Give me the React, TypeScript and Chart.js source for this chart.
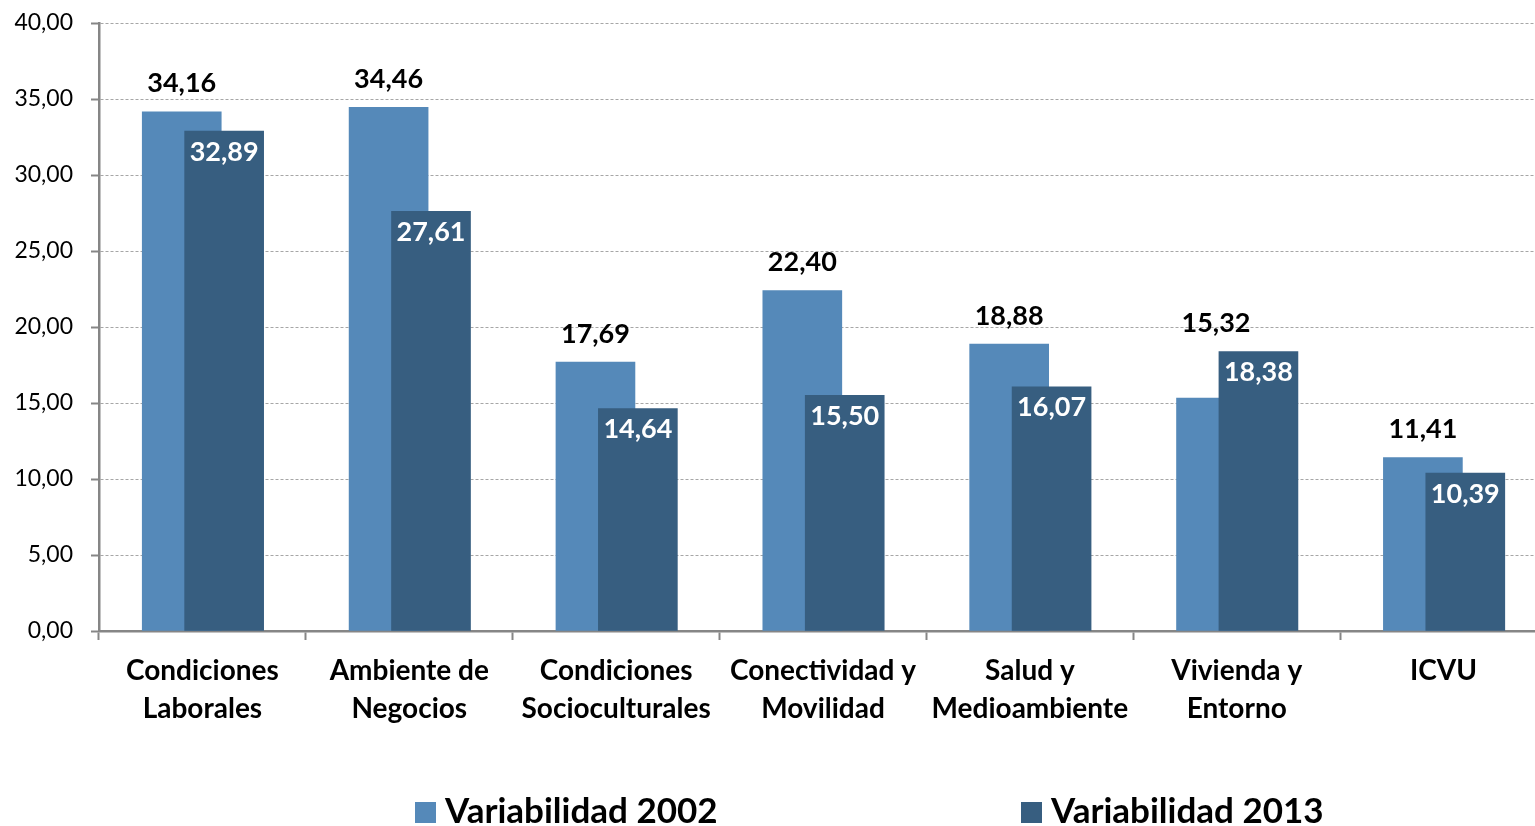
import React, { useEffect, useRef } from 'react';
import { Chart, registerables } from 'chart.js';

Chart.register(...registerables);

const categories: string[][] = [
  ['Condiciones', 'Laborales'],
  ['Ambiente de', 'Negocios'],
  ['Condiciones', 'Socioculturales'],
  ['Conectividad y', 'Movilidad'],
  ['Salud y', 'Medioambiente'],
  ['Vivienda y', 'Entorno'],
  ['ICVU'],
];
const values2002 = [34.16, 34.46, 17.69, 22.4, 18.88, 15.32, 11.41];
const values2013 = [32.89, 27.61, 14.64, 15.5, 16.07, 18.38, 10.39];
const seriesNames = ['Variabilidad 2002', 'Variabilidad 2013'];
const yMin = 0;
const yMax = 40;
const yStep = 5;

const COLOR_2002 = '#5589b9';
const COLOR_2013 = '#375e80';
const AXIS = '#868686';
const FONT = 'Lato, "Open Sans", sans-serif';

const fmt = (v: number) => v.toFixed(2).replace('.', ',');

const labelsPlugin = {
  id: 'valueLabels',
  afterDatasetsDraw(chart: any) {
    const ctx = chart.ctx;
    const m0 = chart.getDatasetMeta(0).data;
    const m1 = chart.getDatasetMeta(1).data;
    ctx.save();
    ctx.textAlign = 'center';
    ctx.textBaseline = 'middle';
    ctx.font = `bold 27px ${FONT}`;
    for (let i = 0; i < m0.length; i++) {
      const e0 = m0[i];
      const e1 = m1[i];
      const top = Math.min(e0.y, e1.y);
      ctx.fillStyle = '#000';
      ctx.fillText(fmt(values2002[i]), e0.x, top - 28);
      ctx.fillStyle = '#fff';
      ctx.fillText(fmt(values2013[i]), e1.x, e1.y + 21);
    }
    ctx.restore();
  },
};

const legendPlugin = {
  id: 'customLegend',
  afterDraw(chart: any) {
    const ctx = chart.ctx;
    const items = [
      { x: 415, color: COLOR_2002, text: seriesNames[0] },
      { x: 1021, color: COLOR_2013, text: seriesNames[1] },
    ];
    ctx.save();
    ctx.font = `bold 35px ${FONT}`;
    ctx.textBaseline = 'alphabetic';
    ctx.textAlign = 'left';
    for (const it of items) {
      ctx.fillStyle = it.color;
      ctx.fillRect(it.x, 802, 21, 21);
      ctx.fillStyle = '#000';
      ctx.fillText(it.text, it.x + 30, 823);
    }
    ctx.restore();
  },
};

export default function App() {
  const ref = useRef<HTMLCanvasElement | null>(null);
  useEffect(() => {
    if (!ref.current) return;
    const chart = new Chart(ref.current, {
      type: 'bar',
      data: {
        labels: categories as any,
        datasets: [
          {
            label: seriesNames[0],
            data: values2002.map((v, i) => ({ x: i - 0.1, y: v })),
            backgroundColor: COLOR_2002,
            xAxisID: 'xb',
            grouped: false,
            barThickness: 79,
            order: 1,
          } as any,
          {
            label: seriesNames[1],
            data: values2013.map((v, i) => ({ x: i + 0.105, y: v })),
            backgroundColor: COLOR_2013,
            xAxisID: 'xb',
            grouped: false,
            barThickness: 79,
            order: 0,
          } as any,
        ],
      },
      options: {
        animation: false,
        responsive: false,
        devicePixelRatio: 1,
        layout: { padding: { top: 23, right: 0, left: 0, bottom: 0 } },
        plugins: { legend: { display: false }, tooltip: { enabled: false } },
        scales: {
          x: {
            type: 'category',
            offset: true,
            grid: {
              offset: true,
              drawOnChartArea: false,
              drawTicks: true,
              tickLength: 9,
              tickColor: AXIS,
              tickWidth: 2,
            },
            border: { color: AXIS, width: 2.5 },
            ticks: {
              color: '#000',
              padding: 12,
              maxRotation: 0,
              autoSkip: false,
              font: { family: FONT, size: 28, weight: 'bold', lineHeight: 1.36 },
            },
            afterFit: (s: any) => {
              s.height = 195;
            },
          },
          xb: {
            type: 'linear',
            display: false,
            offset: false,
            min: -0.5,
            max: 6.5,
          },
          y: {
            min: yMin,
            max: yMax,
            ticks: {
              stepSize: yStep,
              color: '#000',
              padding: 18,
              font: { family: FONT, size: 23 },
              callback: (v: any) => fmt(Number(v)),
            },
            grid: {
              color: '#a6a6a6',
              lineWidth: 1,
              tickLength: 8,
              tickColor: AXIS,
              tickWidth: 2,
            },
            border: { color: AXIS, width: 2.5, dash: [3, 2] },
            afterFit: (s: any) => {
              s.width = 99;
              s.paddingTop = 0;
              s.paddingBottom = 0;
            },
          },
        },
      } as any,
      plugins: [labelsPlugin, legendPlugin],
    });
    return () => chart.destroy();
  }, []);
  return (
    <div
      style={{
        position: 'absolute',
        left: 0,
        top: 0,
        width: 1535,
        height: 826,
        overflow: 'hidden',
        background: '#fff',
      }}
    >
      <canvas ref={ref} width={1547} height={826} style={{ display: 'block' }} />
    </div>
  );
}
